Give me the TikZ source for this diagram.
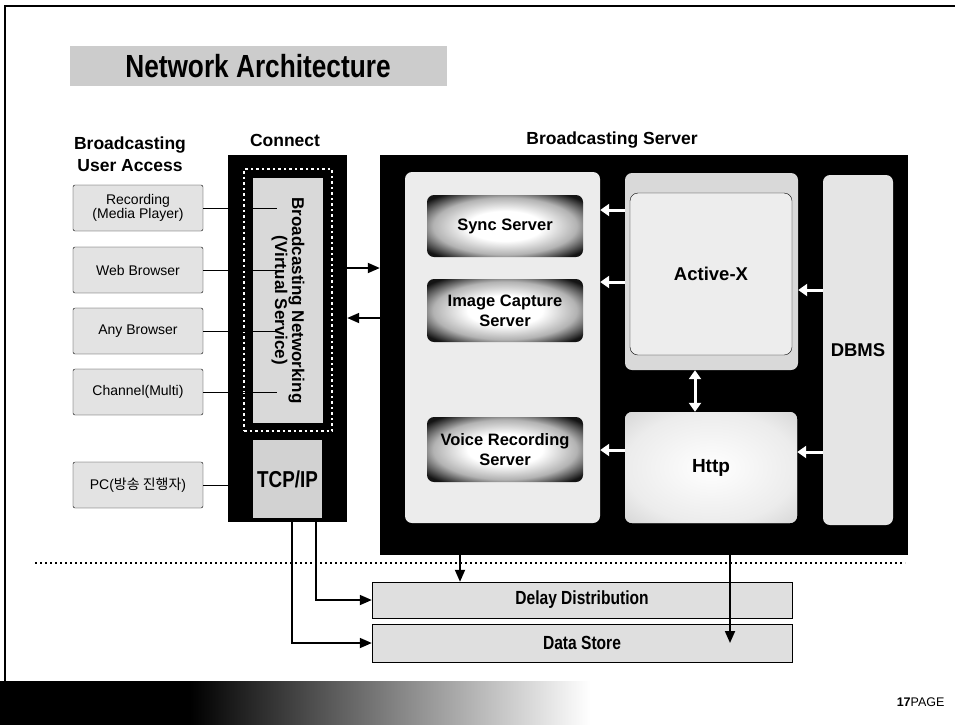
\documentclass[tikz,border=0pt]{standalone}
\usepackage{fontspec}
\setmainfont{Liberation Sans}
\newfontfamily\korfont{Noto Sans CJK KR}
\usetikzlibrary{arrows.meta, positioning}
\newcommand{\narrow}[1]{\scalebox{0.82}[1]{#1}}
\pgfdeclareradialshading{glow}{\pgfpoint{0bp}{0bp}}{color(0bp)=(white); color(12bp)=(white); color(23bp)=(gray!60); color(32bp)=(black!92); color(50bp)=(black!92)}
\pgfdeclareradialshading{haze}{\pgfpoint{0bp}{0bp}}{color(0bp)=(white); color(25bp)=(white!85!gray); color(50bp)=(gray!55)}
\tikzset{
  ubox/.style={draw, fill=gray!22, rounded corners=2pt, minimum width=130pt, minimum height=46pt, align=center, font=\fontsize{14}{14.5}\selectfont},
  srvbox/.style={shading=glow, rounded corners=7pt, minimum width=156pt, align=center, font=\fontsize{16.5}{20}\selectfont\bfseries},
  panel/.style={fill=gray!22, rounded corners=7pt},
  head/.style={font=\fontsize{17.5}{22}\selectfont\bfseries, align=center},
  cond/.style={font=\fontsize{19}{20}\selectfont\bfseries},
  warrow/.style={draw=white, line width=3pt, -{Triangle[length=9pt,width=12pt]}},
  barrow/.style={line width=1.8pt, -{Triangle[length=12pt,width=10pt]}},
}

\begin{document}
\begin{tikzpicture}[x=1pt, y=-1pt]
    \useasboundingbox (0,0) rectangle (955,724);
    % page frame and footer
    \draw[line width=1.5pt] (5,681) -- (5,6) -- (955,6);
    \fill (-2,681) rectangle (192,727);
    \shade[left color=black, middle color=gray!55, right color=white] (190,681) rectangle (590,727);
    \node[anchor=east, font=\fontsize{12.5}{14}\selectfont] (pg) at (948,702) {\textbf{17}PAGE};
    % title
    \node[fill=gray!40, minimum width=377pt, minimum height=40pt] (title) at (258,66) {\narrow{\fontsize{32}{34}\selectfont\bfseries Network Architecture}};
    \node[head] (hUser) at (130,154) {Broadcasting\\User Access};
    \node[head] (hConn) at (285,140) {Connect};
    \node[head] (hSrv) at (612,140) {Broadcasting Server};
    % user access
    \node[ubox] (rec) at (138,208) {Recording\\(Media Player)};
    \node[ubox] (web) at (138,270) {Web Browser};
    \node[ubox] (any) at (138,331) {Any Browser};
    \node[ubox] (chan) at (138,392) {Channel(Multi)};
    \node[ubox] (pc) at (138,485) {PC({\korfont 방송 진행자})};
    % connect
    \node[fill=black, minimum width=119pt, minimum height=367pt] (conn) at (287.5,338.5) {};
    \node[draw=white, line width=2.5pt, dash pattern=on 2.5pt off 3pt, minimum width=88pt, minimum height=262pt] (vframe) at (288,300) {};
    \node[fill=gray!30, minimum width=70pt, minimum height=245pt] (vnet) at (288,300.5) {};
    \node[rotate=-90, font=\fontsize{17}{17}\selectfont\bfseries, align=center] (vtxt) at (vnet) {Broadcasting Networking\\(Virtual Service)};
    \node[fill=gray!35, minimum width=69pt, minimum height=78pt, font=\fontsize{23}{24}\selectfont\bfseries] (tcp) at (287.5,479) {\narrow{TCP/IP}};
    \coordinate (tap) at (277,0);
    \foreach \u in {rec, web, any, chan}
        \draw (\u.east) -- (\u.east -| tap);
    \draw (pc.east) -- (pc.east -| conn.west);
    % broadcasting server
    \node[fill=black, minimum width=528pt, minimum height=400pt] (srv) at (644,355) {};
    \node[panel, fill=gray!15, minimum width=195pt, minimum height=351pt] (lpanel) at (502.5,347.5) {};
    \node[srvbox, minimum height=62pt] (sync) at (505,226) {Sync Server};
    \node[srvbox, minimum height=63pt] (cap) at (505,310.5) {Image Capture\\Server};
    \node[srvbox, minimum height=65pt] (voice) at (505,449.5) {Voice Recording\\Server};
    \node[panel, fill=gray!30, minimum width=173pt, minimum height=197pt] (actx) at (711.5,271.5) {};
    \node[draw, fill=gray!14, rounded corners=8pt, minimum width=162pt, minimum height=162pt, font=\fontsize{18.5}{20}\selectfont\bfseries] (activex) at (711,274) {Active-X};
    \node[panel, shading=haze, minimum width=172pt, minimum height=111pt, font=\fontsize{19}{20}\selectfont\bfseries] (http) at (711,467.5) {Http};
    \node[panel, fill=gray!20, minimum width=70pt, minimum height=350pt, font=\fontsize{18.5}{20}\selectfont\bfseries] (dbms) at (858,350) {DBMS};
    \draw[warrow] (actx.west |- 0,210) -- (lpanel.east |- 0,210);
    \draw[warrow] (actx.west |- 0,282) -- (lpanel.east |- 0,282);
    \draw[warrow] (http.west |- 0,450) -- (lpanel.east |- 0,450);
    \draw[warrow] (dbms.west |- 0,290) -- (actx.east |- 0,290);
    \draw[warrow] (dbms.west |- 0,452) -- (http.east |- 0,452);
    \draw[warrow, {Triangle[length=9pt,width=12pt]}-{Triangle[length=9pt,width=12pt]}] (actx.south -| 695,0) -- (http.north -| 695,0);
    \draw[barrow] (conn.east |- 0,268) -- (srv.west |- 0,268);
    \draw[barrow] (srv.west |- 0,318) -- (conn.east |- 0,318);
    % storage
    \draw[line width=1.8pt, dash pattern=on 1.8pt off 3.2pt] (35,563) -- (905,563);
    \node[draw, fill=gray!25, minimum width=420pt, minimum height=36pt, cond] (delay) at (582,600) {\narrow{Delay Distribution}};
    \node[draw, fill=gray!25, minimum width=420pt, minimum height=38pt, cond] (store) at (582,643) {\narrow{Data Store}};
    \draw[barrow] (tcp.south -| 316,0) |- (delay.west);
    \draw[barrow] (tcp.south -| 292,0) |- (store.west);
    \draw[barrow] (srv.south -| 460,0) -- (delay.north -| 460,0);
    \draw[barrow] (srv.south -| 730,0) -- (store.center -| 730,0);
\end{tikzpicture}
\end{document}
